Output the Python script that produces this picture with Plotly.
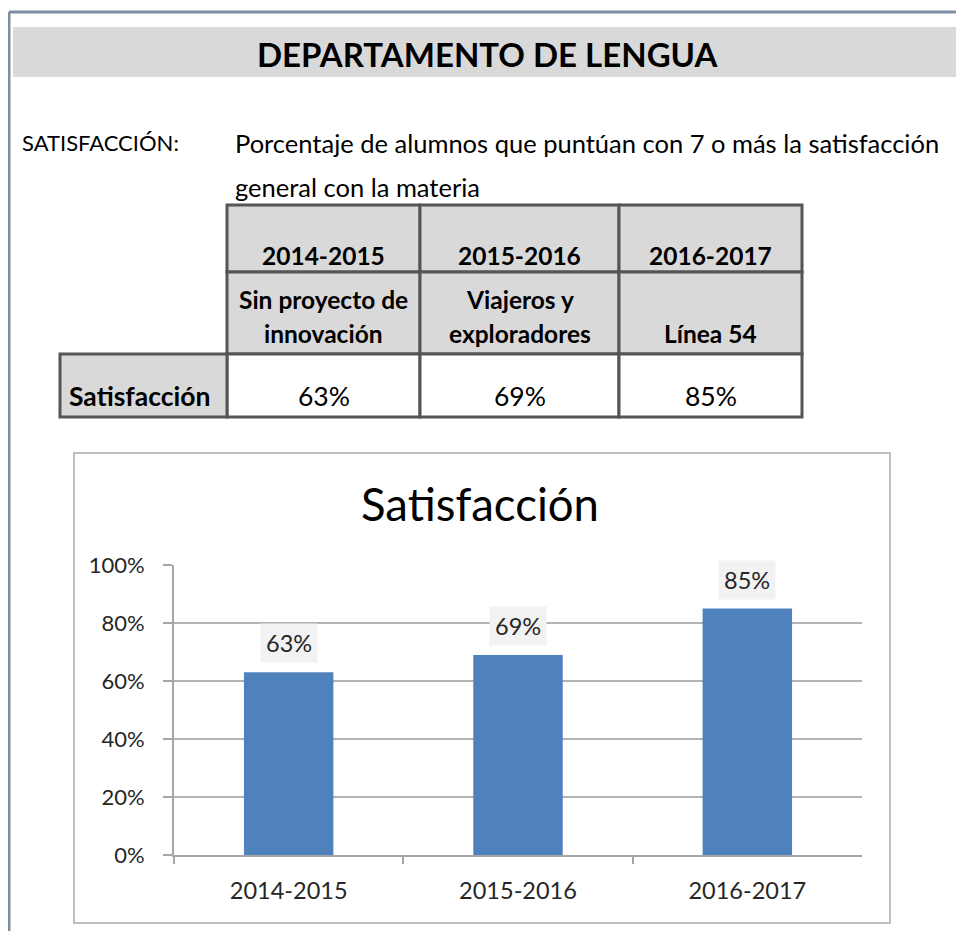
import plotly.graph_objects as go

# ---------------- data ----------------
years = ["2014-2015", "2015-2016", "2016-2017"]
projects = [["Sin proyecto de", "innovación"], ["Viajeros y", "exploradores"], ["Línea 54"]]
satisfaction = [63, 69, 85]
row_label = "Satisfacción"
department = "DEPARTAMENTO DE LENGUA"
indicator = "SATISFACCIÓN:"
description = ["Porcentaje de alumnos que puntúan con 7 o más la satisfacción",
               "general con la materia"]
chart_title = "Satisfacción"
y_ticks = [0, 20, 40, 60, 80, 100]

# ---------------- layout helpers ----------------
W, H = 964, 931
OFF = 8  # page offset of the figure inside the browser
FONT = "Lato"


def px(x):
    return (x - OFF) / W


def py(y):
    return 1 - (y - OFF) / H


shapes = []
annotations = []


def rect(x0, y0, x1, y1, fill=None, line=None, lw=0):
    shapes.append(dict(type="rect", xref="paper", yref="paper",
                       x0=px(x0), x1=px(x1), y0=py(y1), y1=py(y0),
                       fillcolor=fill if fill else "rgba(0,0,0,0)",
                       line=dict(color=line if line else "rgba(0,0,0,0)", width=lw),
                       layer="below"))


def line(x0, y0, x1, y1, color, lw):
    shapes.append(dict(type="line", xref="paper", yref="paper",
                       x0=px(x0), x1=px(x1), y0=py(y0), y1=py(y1),
                       line=dict(color=color, width=lw), layer="below"))


def text(s, x, y, size, bold=False, xanchor="center", color="#111111"):
    annotations.append(dict(text=f"<b>{s}</b>" if bold else s, xref="paper", yref="paper",
                            x=px(x), y=py(y), xanchor=xanchor, yanchor="middle",
                            showarrow=False, font=dict(family=FONT, size=size, color=color)))


# outer frame
line(9, 12, 972, 12, "#7d8da4", 3)
line(9, 12, 9, 940, "#7d8da4", 3)

# header band
rect(13, 27, 972, 77, fill="#d9d9d9")
text(department, 488, 54, 33, bold=True, color="#000000")

# description
text(indicator, 20, 143, 22, xanchor="left", color="#000000")
text(description[0], 233, 143, 25.5, xanchor="left", color="#000000")
text(description[1], 233, 187, 25.5, xanchor="left", color="#000000")

# table
col_x = [227, 420, 619, 802]
row_y = [205, 272, 354, 417]
label_x0 = 60
border = "#555555"
for i in range(3):
    rect(col_x[i], row_y[0], col_x[i + 1], row_y[1], fill="#d9d9d9", line=border, lw=3)
    rect(col_x[i], row_y[1], col_x[i + 1], row_y[2], fill="#d9d9d9", line=border, lw=3)
    rect(col_x[i], row_y[2], col_x[i + 1], row_y[3], fill="#ffffff", line=border, lw=3)
rect(label_x0, row_y[2], col_x[0], row_y[3], fill="#d9d9d9", line=border, lw=3)

for i, yr in enumerate(years):
    cx = (col_x[i] + col_x[i + 1]) / 2
    text(yr, cx, 255, 24.5, bold=True, color="#000000")
    lines = projects[i]
    for k, ln in enumerate(lines):
        text(ln, cx, 333 - 33 * (len(lines) - 1 - k), 24.5, bold=True, color="#000000")
    text(f"{satisfaction[i]}%", cx, 396, 26.5, color="#000000")
text(row_label, 67, 396, 26.5, bold=True, xanchor="left", color="#000000")

# chart box
rect(74, 453, 890, 923, fill="#ffffff", line="#bfbfbf", lw=2)
text(chart_title, 480, 503, 45.5, color="#000000")

# data labels
label_color = "#262626"
for yr, v in zip(years, satisfaction):
    annotations.append(dict(x=yr, y=v, xref="x", yref="y", text=f"{v}%", showarrow=False,
                            yanchor="bottom", yshift=9, bgcolor="#f2f2f2", borderpad=5,
                            font=dict(family=FONT, size=23.5, color=label_color)))

fig = go.Figure(go.Bar(x=years, y=satisfaction, marker=dict(color="#4f81bd", line=dict(width=0)),
                       width=0.39, hoverinfo="skip"))

axis_color = "#a6a6a6"
fig.update_layout(
    width=W, height=H, margin=dict(l=0, r=0, t=0, b=0, autoexpand=False),
    paper_bgcolor="#ffffff", plot_bgcolor="rgba(0,0,0,0)",
    showlegend=False, shapes=shapes, annotations=annotations,
    xaxis=dict(domain=[px(174), px(862)], type="category", tickson="boundaries",
               ticks="outside", ticklen=7, tickcolor=axis_color, tickwidth=2,
               showline=True, linecolor=axis_color, linewidth=2, showgrid=False,
               automargin=False,
               tickfont=dict(family=FONT, size=23.5, color=label_color), ticklabelstandoff=14),
    yaxis=dict(domain=[py(855), py(565)], range=[0, 100], tickvals=y_ticks,
               ticktext=[f"{t}%" for t in y_ticks], ticks="outside", ticklen=9,
               tickcolor=axis_color, tickwidth=2, showline=True, linecolor=axis_color,
               linewidth=2, gridcolor="#b3b3b3", gridwidth=2, zeroline=False,
               automargin=False,
               tickfont=dict(family=FONT, size=22, color=label_color), ticklabelstandoff=14),
)
fig.write_html("out.html")
